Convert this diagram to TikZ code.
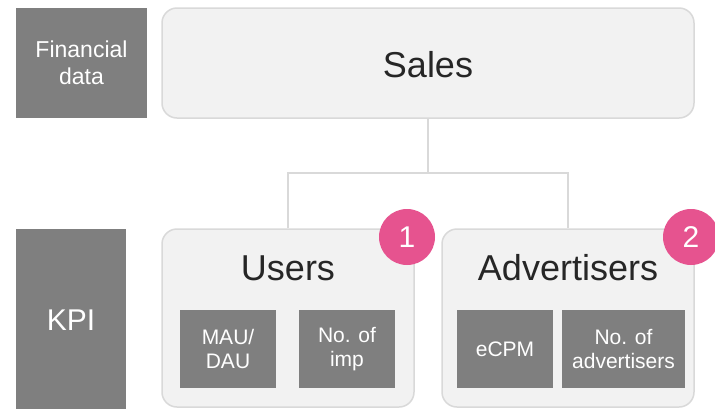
\documentclass[tikz,border=0pt]{standalone}
\usepackage{fontspec}
\setmainfont{Liberation Sans}
\definecolor{boxgray}{HTML}{7F7F7F}
\definecolor{lightfill}{HTML}{F2F2F2}
\definecolor{lightline}{HTML}{D9D9D9}
\definecolor{pinkc}{HTML}{E6538F}
\definecolor{darktext}{HTML}{262626}
\tikzset{
  graybox/.style={fill=boxgray, text=white, inner sep=0pt, align=center},
  roundbox/.style={fill=lightfill, draw=lightline, line width=1.5pt, rounded corners=15pt, inner sep=0pt},
  link/.style={draw=lightline, line width=2pt},
  badge/.style={circle, fill=pinkc, text=white, minimum size=56pt, inner sep=0pt, font=\fontsize{30}{32}\selectfont},
  subbox/.style={graybox, minimum height=78pt, font=\fontsize{21}{23.5}\selectfont},
}
\begin{document}
\begin{tikzpicture}[x=1pt,y=-1pt]
\clip (0,0) rectangle (715,408);
\fill[white] (0,0) rectangle (715,408);
% left labels
\node[graybox, minimum width=131pt, minimum height=110pt, font=\fontsize{23}{27}\selectfont] (fin) at (81.5,63) {Financial\\data};
\node[graybox, minimum width=110pt, minimum height=190pt, font=\fontsize{30}{34}\selectfont] (kpi) at (71,324) {};
\node[text=white, font=\fontsize{30}{34}\selectfont] (kpitext) at (71,320) {KPI};
% Sales
\node[roundbox, minimum width=532pt, minimum height=110pt] (sales) at (428,63) {};
\node[text=darktext, font=\fontsize{36}{40}\selectfont] (salestext) at (428,65) {Sales};
% Users / Advertisers boxes
\node[roundbox, minimum width=252pt, minimum height=178pt] (users) at (288,318) {};
\node[roundbox, minimum width=252pt, minimum height=178pt] (adv) at (568,318) {};
\node[text=darktext, font=\fontsize{36}{40}\selectfont] (userstext) at (288,268) {Users};
\node[text=darktext, font=\fontsize{36}{40}\selectfont] (advtext) at (568,268) {Advertisers};
% connectors
\coordinate (junc) at (428,173);
\draw[link] (sales.south) -- (junc);
\draw[link] (users.north) |- (junc) -| (adv.north);
% sub boxes
\node[subbox, minimum width=96pt] (mau) at (228,349) {MAU/\\DAU};
\node[subbox, minimum width=96pt] (imp) at (347,349) {No. of\\imp};
\node[subbox, minimum width=96pt] (ecpm) at (505,349) {eCPM};
\node[subbox, minimum width=123pt] (nadv) at (623.5,349) {No. of\\advertisers};
% badges
\node[badge] (b1) at (407,237) {1};
\node[badge] (b2) at (691,237) {2};
\end{tikzpicture}
\end{document}
